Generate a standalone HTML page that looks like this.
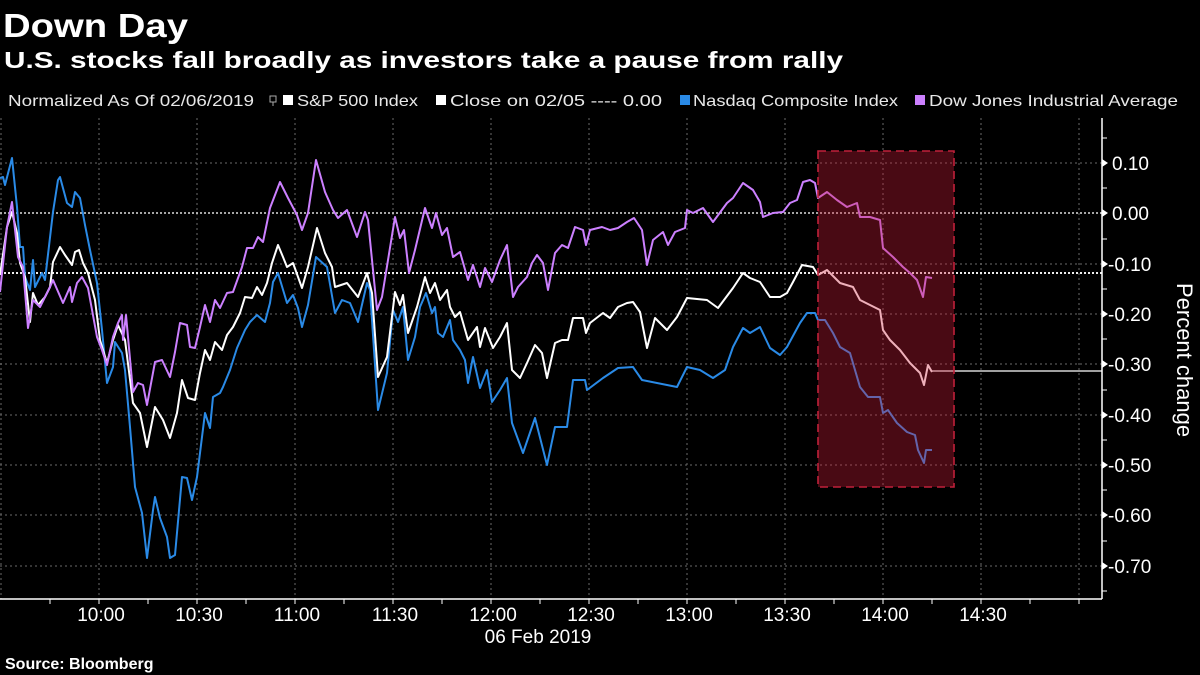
<!DOCTYPE html>
<html><head><meta charset="utf-8"><style>
html,body{margin:0;padding:0;background:#000;width:1200px;height:675px;overflow:hidden}
svg{display:block}
text{font-family:"Liberation Sans",sans-serif}
</style></head><body>
<svg width="1200" height="675" viewBox="0 0 1200 675" xmlns="http://www.w3.org/2000/svg">
<rect width="1200" height="675" fill="#000"/>
<text x="3" y="37" font-size="33" font-weight="bold" fill="#fff" textLength="185" lengthAdjust="spacingAndGlyphs">Down Day</text>
<text x="4" y="68" font-size="23" font-weight="bold" fill="#fff" textLength="839" lengthAdjust="spacingAndGlyphs">U.S. stocks fall broadly as investors take a pause from rally</text>
<g font-size="16" fill="#e8e8e8">
<text x="8" y="106" textLength="246" lengthAdjust="spacingAndGlyphs">Normalized As Of 02/06/2019</text>
<rect x="270" y="96" width="6" height="6" fill="none" stroke="#aaa" stroke-width="1"/><line x1="273" y1="102" x2="273" y2="106" stroke="#aaa"/>
<rect x="283" y="95" width="10" height="10" fill="#fff"/>
<text x="297" y="106" textLength="121" lengthAdjust="spacingAndGlyphs">S&amp;P 500 Index</text>
<rect x="436" y="95" width="10" height="10" fill="#fff"/>
<text x="450" y="106" textLength="212" lengthAdjust="spacingAndGlyphs">Close on 02/05 ---- 0.00</text>
<rect x="680" y="95" width="10" height="10" fill="#2a8ae6"/>
<text x="693" y="106" textLength="205" lengthAdjust="spacingAndGlyphs">Nasdaq Composite Index</text>
<rect x="915" y="95" width="10" height="10" fill="#cc80ff"/>
<text x="929" y="106" textLength="249" lengthAdjust="spacingAndGlyphs">Dow Jones Industrial Average</text>
</g>
<!-- grid -->
<g stroke="#6a6a6a" stroke-width="1" stroke-dasharray="2,3">
<line x1="1" y1="118" x2="1" y2="599"/><line x1="99" y1="118" x2="99" y2="599"/><line x1="197" y1="118" x2="197" y2="599"/><line x1="295" y1="118" x2="295" y2="599"/><line x1="393" y1="118" x2="393" y2="599"/><line x1="491" y1="118" x2="491" y2="599"/><line x1="589" y1="118" x2="589" y2="599"/><line x1="687" y1="118" x2="687" y2="599"/><line x1="785" y1="118" x2="785" y2="599"/><line x1="883" y1="118" x2="883" y2="599"/><line x1="981" y1="118" x2="981" y2="599"/><line x1="1079" y1="118" x2="1079" y2="599"/>
<line x1="0" y1="163" x2="1102" y2="163"/><line x1="0" y1="264" x2="1102" y2="264"/><line x1="0" y1="314" x2="1102" y2="314"/><line x1="0" y1="364" x2="1102" y2="364"/><line x1="0" y1="415" x2="1102" y2="415"/><line x1="0" y1="465" x2="1102" y2="465"/><line x1="0" y1="515" x2="1102" y2="515"/><line x1="0" y1="566" x2="1102" y2="566"/>
</g>
<line x1="0" y1="213" x2="1102" y2="213" stroke="#ddd" stroke-width="1.5" stroke-dasharray="2,2"/>
<line x1="0" y1="273" x2="1102" y2="273" stroke="#eee" stroke-width="2" stroke-dasharray="2,2"/>
<line x1="932" y1="371" x2="1102" y2="371" stroke="#fff" stroke-width="1.2"/>
<g fill="none" stroke-width="2" stroke-linejoin="round">
<polyline stroke="#2a8ae6" points="0,178 3,177 5,185 12,158 17,207 20,247 23,247 25,277 30,290 33,260 35,287 42,273 45,280 53,212 58,180 60,177 67,203 72,207 75,192 80,198 85,225 90,250 97,283 102,330 107,383 113,367 115,342 122,353 125,370 130,427 135,487 142,513 147,558 153,510 155,497 160,518 167,537 170,558 175,555 182,477 187,478 192,500 197,477 205,413 210,428 213,397 220,393 223,387 230,370 237,348 245,330 250,322 257,315 265,322 270,303 273,282 278,273 287,303 293,295 298,308 302,327 308,305 316,257 327,267 335,313 342,300 350,303 358,322 367,283 370,290 378,410 387,373 393,310 398,322 403,307 408,360 415,337 420,307 426,293 432,313 435,307 438,333 443,337 450,320 453,340 460,350 465,360 468,383 473,357 480,388 487,370 492,402 500,390 507,378 512,423 523,453 535,418 547,465 555,427 567,427 573,380 585,380 587,390 603,378 618,368 633,367 642,380 677,387 687,367 700,370 713,378 725,370 733,347 743,328 750,333 760,327 770,348 780,355 787,347 800,323 807,313 815,313 818,320 825,320 833,333 840,347 850,353 860,387 868,397 880,397 883,413 888,410 897,423 907,432 915,435 918,450 924,463 926,450 932,450"/>
<polyline stroke="#ffffff" points="0,275 7,227 12,212 17,233 20,263 25,277 30,322 33,293 38,305 45,297 50,287 53,262 60,247 65,255 72,265 75,252 79,250 83,263 88,273 95,300 100,340 107,363 113,340 118,325 125,340 133,403 140,413 147,447 155,407 163,420 170,438 177,413 182,380 188,398 195,400 200,373 205,350 210,360 215,342 222,350 227,335 233,327 240,313 245,297 252,298 257,287 262,295 267,283 272,263 278,245 283,257 287,267 293,263 302,288 308,267 317,228 325,253 332,267 335,287 347,283 358,297 367,273 372,293 378,377 387,357 395,292 400,305 403,295 408,333 417,307 425,277 430,293 435,283 440,300 447,290 450,307 455,317 460,312 468,340 477,327 480,347 485,328 493,348 500,337 507,323 512,370 520,378 527,363 535,345 542,353 547,378 555,343 562,340 568,340 573,318 583,318 586,333 590,323 603,313 610,318 618,307 627,303 633,302 640,312 647,348 655,318 667,330 677,317 687,298 707,300 718,308 733,288 743,273 750,278 760,282 770,297 780,297 787,293 793,282 802,265 813,267 818,275 827,270 840,283 853,287 860,300 870,305 880,310 883,330 890,340 900,350 910,363 920,373 924,385 928,365 932,372"/>
<polyline stroke="#cc80ff" points="0,292 7,227 12,202 18,257 23,267 28,328 33,300 40,307 50,287 53,280 63,303 70,287 72,302 77,283 82,277 88,288 97,337 102,350 107,365 113,337 118,323 122,315 123,340 126,315 133,392 138,383 143,385 147,405 155,362 162,360 170,377 175,352 180,323 187,325 190,347 195,348 200,327 205,305 210,322 215,300 220,308 227,293 233,292 242,267 247,248 253,248 258,237 263,242 270,208 280,182 288,198 297,215 302,230 308,213 316,160 325,192 333,210 338,218 347,210 357,237 365,212 368,220 377,310 382,297 395,217 400,238 404,230 409,273 415,250 425,208 432,228 436,213 442,235 447,228 453,257 460,252 468,280 473,265 480,287 485,268 492,282 500,260 507,245 513,297 518,287 527,277 532,263 537,255 543,263 548,290 555,253 562,245 568,248 575,227 583,230 586,245 590,230 602,227 610,230 618,228 627,222 634,218 642,230 647,265 653,240 663,232 668,245 675,232 685,228 687,210 693,213 703,208 713,222 727,203 733,198 743,183 753,190 760,202 763,217 773,213 783,212 790,203 797,200 803,182 810,180 815,183 818,198 827,192 837,200 847,207 857,203 860,217 870,217 880,220 883,248 893,257 903,267 910,273 917,280 923,297 926,277 932,278"/>
</g>
<rect x="818" y="151" width="136" height="336" fill="rgba(210,28,57,0.35)" stroke="#c0203a" stroke-width="1.6" stroke-dasharray="8,5"/>
<!-- axes -->
<g stroke="#fff" stroke-width="1.5">
<line x1="0" y1="599" x2="1102" y2="599"/>
<line x1="1102" y1="118" x2="1102" y2="599"/>
</g>
<g stroke="#fff" stroke-width="1">
<line x1="50" y1="599" x2="50" y2="604"/><line x1="99" y1="599" x2="99" y2="604"/><line x1="148" y1="599" x2="148" y2="604"/><line x1="197" y1="599" x2="197" y2="604"/><line x1="246" y1="599" x2="246" y2="604"/><line x1="295" y1="599" x2="295" y2="604"/><line x1="344" y1="599" x2="344" y2="604"/><line x1="393" y1="599" x2="393" y2="604"/><line x1="442" y1="599" x2="442" y2="604"/><line x1="491" y1="599" x2="491" y2="604"/><line x1="540" y1="599" x2="540" y2="604"/><line x1="589" y1="599" x2="589" y2="604"/><line x1="638" y1="599" x2="638" y2="604"/><line x1="687" y1="599" x2="687" y2="604"/><line x1="736" y1="599" x2="736" y2="604"/><line x1="785" y1="599" x2="785" y2="604"/><line x1="834" y1="599" x2="834" y2="604"/><line x1="883" y1="599" x2="883" y2="604"/><line x1="932" y1="599" x2="932" y2="604"/><line x1="981" y1="599" x2="981" y2="604"/><line x1="1030" y1="599" x2="1030" y2="604"/><line x1="1079" y1="599" x2="1079" y2="604"/>
<line x1="1102" y1="138" x2="1107" y2="138"/><line x1="1102" y1="188" x2="1107" y2="188"/><line x1="1102" y1="239" x2="1107" y2="239"/><line x1="1102" y1="289" x2="1107" y2="289"/><line x1="1102" y1="339" x2="1107" y2="339"/><line x1="1102" y1="390" x2="1107" y2="390"/><line x1="1102" y1="440" x2="1107" y2="440"/><line x1="1102" y1="490" x2="1107" y2="490"/><line x1="1102" y1="541" x2="1107" y2="541"/><line x1="1102" y1="591" x2="1107" y2="591"/>
</g>
<g fill="#fff">
<path d="M1102,159 L1108,163 L1102,167Z"/><path d="M1102,209 L1108,213 L1102,217Z"/><path d="M1102,260 L1108,264 L1102,268Z"/><path d="M1102,310 L1108,314 L1102,318Z"/><path d="M1102,360 L1108,364 L1102,368Z"/><path d="M1102,411 L1108,415 L1102,419Z"/><path d="M1102,461 L1108,465 L1102,469Z"/><path d="M1102,511 L1108,515 L1102,519Z"/><path d="M1102,562 L1108,566 L1102,570Z"/>
</g>
<g font-size="19" fill="#fff">
<text x="1112" y="170">0.10</text><text x="1112" y="220">0.00</text><text x="1108" y="271">-0.10</text><text x="1108" y="321">-0.20</text><text x="1108" y="371">-0.30</text><text x="1108" y="422">-0.40</text><text x="1108" y="472">-0.50</text><text x="1108" y="522">-0.60</text><text x="1108" y="573">-0.70</text>
</g>
<text transform="translate(1177,360) rotate(90)" font-size="22" fill="#fff" text-anchor="middle">Percent change</text>
<g font-size="19" fill="#fff" text-anchor="middle">
<text x="101" y="621">10:00</text><text x="199" y="621">10:30</text><text x="297" y="621">11:00</text><text x="395" y="621">11:30</text><text x="493" y="621">12:00</text><text x="591" y="621">12:30</text><text x="689" y="621">13:00</text><text x="787" y="621">13:30</text><text x="885" y="621">14:00</text><text x="983" y="621">14:30</text>
<text x="538" y="643">06 Feb 2019</text>
</g>
<text x="5" y="669" font-size="16" font-weight="bold" fill="#fff">Source: Bloomberg</text>
</svg>
</body></html>
